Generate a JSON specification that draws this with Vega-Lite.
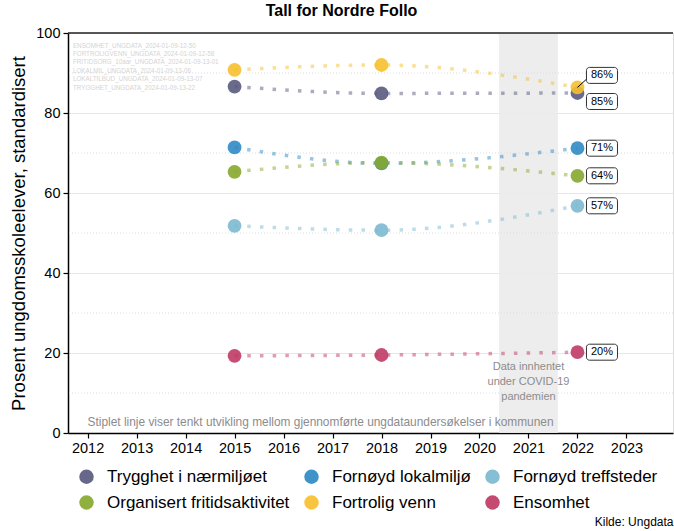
{
  "$schema": "https://vega.github.io/schema/vega-lite/v6.json",
  "width": 605,
  "height": 400,
  "autosize": {"type": "none"},
  "padding": {"left": 68, "top": 33, "right": 1, "bottom": 98},
  "background": "white",
  "config": {
    "font": "Liberation Sans",
    "view": {"stroke": "#dddddd", "strokeWidth": 1},
    "axis": {"labelFont": "Liberation Sans", "titleFont": "Liberation Sans", "labelColor": "black", "titleColor": "black", "tickColor": "black", "domainColor": "black"}
  },
  "title": {"text": "Tall for Nordre Follo", "fontSize": 16, "fontWeight": "bold", "font": "Liberation Sans", "anchor": "middle", "dx": -29, "offset": 6, "color": "black"},
  "data": {"values": [
      {"serie": "Trygghet i nærmiljøet", "year": 2015, "value": 86.6},
      {"serie": "Trygghet i nærmiljøet", "year": 2018, "value": 84.9},
      {"serie": "Trygghet i nærmiljøet", "year": 2022, "value": 85.0},
      {"serie": "Fortrolig venn", "year": 2015, "value": 90.8},
      {"serie": "Fortrolig venn", "year": 2018, "value": 92.0},
      {"serie": "Fortrolig venn", "year": 2022, "value": 86.4},
      {"serie": "Fornøyd lokalmiljø", "year": 2015, "value": 71.4},
      {"serie": "Fornøyd lokalmiljø", "year": 2018, "value": 67.4},
      {"serie": "Fornøyd lokalmiljø", "year": 2022, "value": 71.2},
      {"serie": "Organisert fritidsaktivitet", "year": 2015, "value": 65.3},
      {"serie": "Organisert fritidsaktivitet", "year": 2018, "value": 67.6},
      {"serie": "Organisert fritidsaktivitet", "year": 2022, "value": 64.3},
      {"serie": "Fornøyd treffsteder", "year": 2015, "value": 51.8},
      {"serie": "Fornøyd treffsteder", "year": 2018, "value": 50.7},
      {"serie": "Fornøyd treffsteder", "year": 2022, "value": 56.8},
      {"serie": "Ensomhet", "year": 2015, "value": 19.3},
      {"serie": "Ensomhet", "year": 2018, "value": 19.5},
      {"serie": "Ensomhet", "year": 2022, "value": 20.2}
  ]},
  "layer": [
    {
      "transform": [{"filter": "datum.serie == 'Ensomhet' && datum.year == 2015"}],
      "mark": {"type": "rect", "fill": "#ebebeb", "opacity": 0.9},
      "encoding": {
        "x": {"datum": 2020.4, "type": "quantitative", "scale": {"domain": [2011.6, 2023.95], "nice": false, "zero": false},
          "axis": {"values": [2012, 2013, 2014, 2015, 2016, 2017, 2018, 2019, 2020, 2021, 2022, 2023], "format": "d", "grid": false, "labelFontSize": 14.5, "tickSize": 5, "labelPadding": 3, "domainWidth": 1.5, "tickWidth": 1.2,
            "title": "Kilde: Ungdata", "titleFontSize": 12, "titleFontWeight": "normal", "titleAnchor": "end", "titleAlign": "right", "titleX": 605, "titleY": 95, "titleBaseline": "bottom"}},
        "x2": {"datum": 2021.6},
        "y": {"datum": 0, "type": "quantitative", "scale": {"domain": [0, 100], "nice": false},
          "axis": {"values": [0, 20, 40, 60, 80, 100], "grid": true, "gridColor": "#e6e6e6", "gridWidth": 1, "labelFontSize": 14.5, "tickSize": 5, "labelPadding": 3, "domainWidth": 1.5, "tickWidth": 1.2,
            "title": "Prosent ungdomsskoleelever, standardisert", "titleFontSize": 18.5, "titleFontWeight": "normal", "titlePadding": 7}},
        "y2": {"datum": 100}
      }
    },
    {
      "mark": {"type": "rule", "stroke": "#dcdcdc", "strokeDash": [1, 2], "strokeWidth": 1},
      "data": {"values": [{"g": 10}, {"g": 30}, {"g": 50}, {"g": 70}, {"g": 90}]},
      "encoding": {"y": {"field": "g", "type": "quantitative"}}
    },
    {
      "transform": [{"filter": "datum.serie == 'Ensomhet' && datum.year == 2015"}],
      "mark": {"type": "rule", "stroke": "#222222", "strokeWidth": 1.5},
      "encoding": {"y": {"datum": 100, "type": "quantitative"}}
    },
    {
      "transform": [{"filter": "datum.serie == 'Ensomhet' && datum.year == 2015"}],
      "mark": {"type": "text", "align": "left", "baseline": "top", "fontSize": 6.3, "lineHeight": 8.4, "color": "#d4d4d4",
        "text": ["ENSOMHET_UNGDATA_2024-01-09-12-50", "FORTROLIGVENN_UNGDATA_2024-01-09-12-58", "FRITIDSORG_10aar_UNGDATA_2024-01-09-13-01", "LOKALMIL_UNGDATA_2024-01-09-13-06", "LOKALTILBUD_UNGDATA_2024-01-09-13-07", "TRYGGHET_UNGDATA_2024-01-09-13-22"]},
      "encoding": {"x": {"datum": 2011.7, "type": "quantitative"}, "y": {"datum": 97.6, "type": "quantitative"}}
    },
    {
      "transform": [{"filter": "datum.serie == 'Ensomhet' && datum.year == 2015"}],
      "mark": {"type": "text", "align": "left", "baseline": "middle", "fontSize": 11.9, "color": "#8c8c8c",
        "text": "Stiplet linje viser tenkt utvikling mellom gjennomførte ungdataundersøkelser i kommunen"},
      "encoding": {"x": {"datum": 2012, "type": "quantitative"}, "y": {"datum": 2.8, "type": "quantitative"}}
    },
    {
      "transform": [{"filter": "datum.serie == 'Ensomhet' && datum.year == 2015"}],
      "mark": {"type": "text", "align": "center", "baseline": "middle", "fontSize": 11, "lineHeight": 15, "color": "#8c8c8c",
        "text": ["Data innhentet", "under COVID-19", "pandemien"]},
      "encoding": {"x": {"datum": 2021, "type": "quantitative"}, "y": {"datum": 16.5, "type": "quantitative"}}
    },
    {
      "mark": {"type": "line", "interpolate": "monotone", "strokeDash": [3.5, 9.2], "strokeWidth": 3.5, "strokeOpacity": 0.5},
      "encoding": {
        "x": {"field": "year", "type": "quantitative"},
        "y": {"field": "value", "type": "quantitative"},
        "color": {"field": "serie", "type": "nominal"}
      }
    },
    {
      "mark": {"type": "circle", "size": 190, "opacity": 0.9},
      "encoding": {
        "x": {"field": "year", "type": "quantitative"},
        "y": {"field": "value", "type": "quantitative"},
        "color": {"field": "serie", "type": "nominal",
          "scale": {"domain": ["Trygghet i nærmiljøet", "Fornøyd lokalmiljø", "Fornøyd treffsteder", "Organisert fritidsaktivitet", "Fortrolig venn", "Ensomhet"],
            "range": ["#5a5a80", "#2f8ac4", "#7cb9d0", "#87a92d", "#f6c02f", "#c03a65"]},
          "legend": {"orient": "none", "legendX": 10, "legendY": 435, "direction": "horizontal", "columns": 3, "title": null,
            "symbolType": "circle", "symbolSize": 210, "symbolStrokeWidth": 0, "symbolOpacity": 0.92, "labelFontSize": 17, "labelFont": "Liberation Sans", "labelColor": "black",
            "columnPadding": 13, "rowPadding": 8, "labelOffset": 12, "labelLimit": 400,
            "encode": {"symbols": {"update": {"opacity": {"value": 0.92}, "fillOpacity": {"value": 1}, "strokeWidth": {"value": 0}}}}}}
      }
    },
    {
      "transform": [{"filter": "datum.year == 2022 && datum.serie == 'Fortrolig venn'"}],
      "mark": {"type": "rule", "stroke": "black", "strokeWidth": 1, "x2Offset": 11, "y2Offset": -10},
      "encoding": {"x": {"field": "year", "type": "quantitative"}, "y": {"field": "value", "type": "quantitative"}, "x2": {"field": "year"}, "y2": {"field": "value"}}
    },
    {
      "transform": [{"filter": "datum.year == 2022 && datum.serie != 'Fortrolig venn' && datum.serie != 'Trygghet i nærmiljøet'"}, {"calculate": "round(datum.value) + '%'", "as": "lab"}],
      "encoding": {"x": {"field": "year", "type": "quantitative"}, "y": {"field": "value", "type": "quantitative"}},
      "layer": [
        {"mark": {"type": "rect", "fill": "white", "stroke": "#333333", "strokeWidth": 1, "cornerRadius": 3, "xOffset": 9, "x2Offset": 40, "yOffset": -8, "y2Offset": 8},
          "encoding": {"x2": {"field": "year"}, "y2": {"field": "value"}}},
        {"mark": {"type": "text", "fontSize": 11, "color": "black", "dx": 24.5, "align": "center", "baseline": "middle"},
          "encoding": {"text": {"field": "lab"}}}
      ]
    },
    {
      "transform": [{"filter": "datum.year == 2022 && datum.serie == 'Fortrolig venn'"}, {"calculate": "round(datum.value) + '%'", "as": "lab"}],
      "encoding": {"x": {"field": "year", "type": "quantitative"}, "y": {"field": "value", "type": "quantitative"}},
      "layer": [
        {"mark": {"type": "rect", "fill": "white", "stroke": "#333333", "strokeWidth": 1, "cornerRadius": 3, "xOffset": 9, "x2Offset": 40, "yOffset": -20, "y2Offset": -4},
          "encoding": {"x2": {"field": "year"}, "y2": {"field": "value"}}},
        {"mark": {"type": "text", "fontSize": 11, "color": "black", "dx": 24.5, "dy": -12, "align": "center", "baseline": "middle"},
          "encoding": {"text": {"field": "lab"}}}
      ]
    },
    {
      "transform": [{"filter": "datum.year == 2022 && datum.serie == 'Trygghet i nærmiljøet'"}, {"calculate": "round(datum.value) + '%'", "as": "lab"}],
      "encoding": {"x": {"field": "year", "type": "quantitative"}, "y": {"field": "value", "type": "quantitative"}},
      "layer": [
        {"mark": {"type": "rect", "fill": "white", "stroke": "#333333", "strokeWidth": 1, "cornerRadius": 3, "xOffset": 9, "x2Offset": 40, "yOffset": 0.5, "y2Offset": 16.5},
          "encoding": {"x2": {"field": "year"}, "y2": {"field": "value"}}},
        {"mark": {"type": "text", "fontSize": 11, "color": "black", "dx": 24.5, "dy": 8.5, "align": "center", "baseline": "middle"},
          "encoding": {"text": {"field": "lab"}}}
      ]
    }
  ]
}
